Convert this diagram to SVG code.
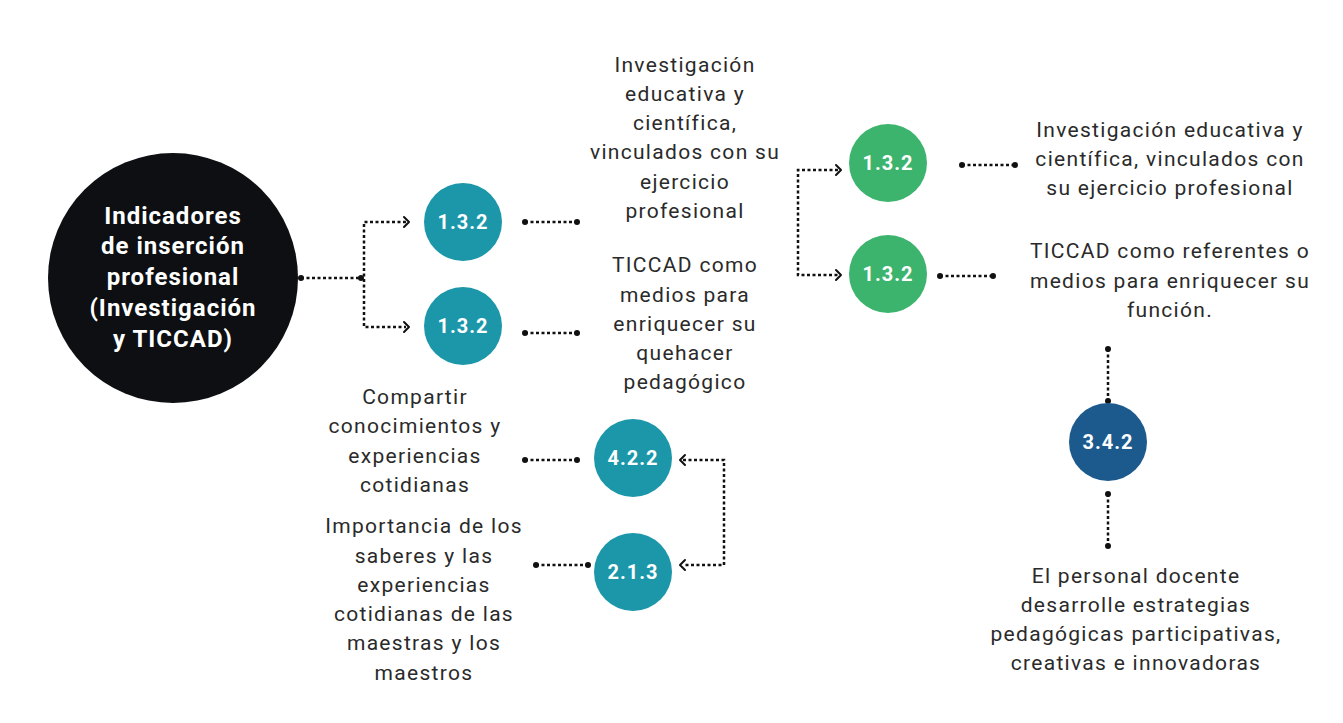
<svg xmlns="http://www.w3.org/2000/svg" width="1343" height="723" viewBox="0 0 1343 723">
<style>
.bg{fill:#ffffff}
.lbl{font-family:Roboto,"Liberation Sans",sans-serif;font-size:21px;letter-spacing:1.3px;fill:#2a2a2a;text-anchor:middle}
.num{font-family:Roboto,"Liberation Sans",sans-serif;font-size:20px;font-weight:700;letter-spacing:1px;fill:#ffffff;text-anchor:middle}
.main{font-family:Roboto,"Liberation Sans",sans-serif;font-size:24px;font-weight:700;letter-spacing:1px;fill:#ffffff;text-anchor:middle}
.teal{fill:#1c97a9}
.green{fill:#3cb46e}
.blue{fill:#1c5a8e}
.dot{stroke:#111;stroke-width:2.5;stroke-dasharray:3 2.5;fill:none}
.end{fill:#111}
.chev{stroke:#111;stroke-width:2;fill:none;stroke-linecap:round;stroke-linejoin:round}
</style>
<rect class="bg" x="0" y="0" width="1343" height="723"/>

<g id="connectors">
  <!-- main to teal pair -->
  <line class="dot" x1="301" y1="278" x2="361" y2="278"/>
  <circle class="end" cx="301" cy="278" r="3"/>
  <circle class="end" cx="361" cy="278" r="3"/>
  <polyline class="dot" points="406,222 364,222 364,327 406,327"/>
  <polyline class="chev" points="404,217 409,222 404,227"/>
  <polyline class="chev" points="404,322 409,327 404,332"/>
  <!-- teal to labels -->
  <line class="dot" x1="525" y1="222" x2="577" y2="222"/>
  <circle class="end" cx="525" cy="222" r="3"/>
  <circle class="end" cx="577" cy="222" r="3"/>
  <line class="dot" x1="525" y1="333" x2="577" y2="333"/>
  <circle class="end" cx="525" cy="333" r="3"/>
  <circle class="end" cx="577" cy="333" r="3"/>
  <!-- green bracket -->
  <polyline class="dot" points="838,170 798,170 798,275 838,275"/>
  <polyline class="chev" points="836,165 841,170 836,175"/>
  <polyline class="chev" points="836,270 841,275 836,280"/>
  <!-- green to labels -->
  <line class="dot" x1="962" y1="165" x2="1015" y2="165"/>
  <circle class="end" cx="962" cy="165" r="3"/>
  <circle class="end" cx="1015" cy="165" r="3"/>
  <line class="dot" x1="940" y1="276" x2="993" y2="276"/>
  <circle class="end" cx="940" cy="276" r="3"/>
  <circle class="end" cx="993" cy="276" r="3"/>
  <!-- 3.4.2 verticals -->
  <line class="dot" x1="1108" y1="349" x2="1108" y2="401"/>
  <circle class="end" cx="1108" cy="349" r="3"/>
  <circle class="end" cx="1108" cy="401" r="3"/>
  <line class="dot" x1="1108" y1="494" x2="1108" y2="546"/>
  <circle class="end" cx="1108" cy="494" r="3"/>
  <circle class="end" cx="1108" cy="546" r="3"/>
  <!-- lower bracket -->
  <polyline class="dot" points="683,460 724,460 724,565 683,565"/>
  <polyline class="chev" points="685,455 680,460 685,465"/>
  <polyline class="chev" points="685,560 680,565 685,570"/>
  <!-- lower circles to labels -->
  <line class="dot" x1="525" y1="460" x2="577" y2="460"/>
  <circle class="end" cx="525" cy="460" r="3"/>
  <circle class="end" cx="577" cy="460" r="3"/>
  <line class="dot" x1="536" y1="565" x2="588" y2="565"/>
  <circle class="end" cx="536" cy="565" r="3"/>
  <circle class="end" cx="588" cy="565" r="3"/>
</g>

<g id="main-node">
  <circle cx="173" cy="278" r="125" fill="#0d0f12"/>
  <text class="main" x="173" y="224">Indicadores</text>
  <text class="main" x="173" y="254">de inserción</text>
  <text class="main" x="173" y="285">profesional</text>
  <text class="main" x="173" y="316">(Investigación</text>
  <text class="main" x="173" y="347">y TICCAD)</text>
</g>

<g id="node-132a">
  <circle class="teal" cx="463" cy="222" r="39"/>
  <text class="num" x="463" y="229">1.3.2</text>
</g>
<g id="node-132b">
  <circle class="teal" cx="463" cy="326" r="39"/>
  <text class="num" x="463" y="333">1.3.2</text>
</g>

<g id="label-inv1">
  <text class="lbl" x="685" y="72">Investigación</text>
  <text class="lbl" x="685" y="101">educativa y</text>
  <text class="lbl" x="685" y="130">científica,</text>
  <text class="lbl" x="685" y="159">vinculados con su</text>
  <text class="lbl" x="685" y="189">ejercicio</text>
  <text class="lbl" x="685" y="218">profesional</text>
</g>
<g id="label-ticcad1">
  <text class="lbl" x="685" y="272">TICCAD como</text>
  <text class="lbl" x="685" y="302">medios para</text>
  <text class="lbl" x="685" y="331">enriquecer su</text>
  <text class="lbl" x="685" y="360">quehacer</text>
  <text class="lbl" x="685" y="389">pedagógico</text>
</g>

<g id="node-132c">
  <circle class="green" cx="888" cy="163" r="39"/>
  <text class="num" x="888" y="170">1.3.2</text>
</g>
<g id="node-132d">
  <circle class="green" cx="888" cy="274" r="39"/>
  <text class="num" x="888" y="281">1.3.2</text>
</g>

<g id="label-inv2">
  <text class="lbl" x="1170" y="137">Investigación educativa y</text>
  <text class="lbl" x="1170" y="166">científica, vinculados con</text>
  <text class="lbl" x="1170" y="195">su ejercicio profesional</text>
</g>
<g id="label-ticcad2">
  <text class="lbl" x="1170" y="258">TICCAD como referentes o</text>
  <text class="lbl" x="1170" y="288">medios para enriquecer su</text>
  <text class="lbl" x="1170" y="317">función.</text>
</g>

<g id="node-342">
  <circle class="blue" cx="1108" cy="442" r="39"/>
  <text class="num" x="1108" y="449">3.4.2</text>
</g>
<g id="label-docente">
  <text class="lbl" x="1136" y="583">El personal docente</text>
  <text class="lbl" x="1136" y="612">desarrolle estrategias</text>
  <text class="lbl" x="1136" y="641">pedagógicas participativas,</text>
  <text class="lbl" x="1136" y="670">creativas e innovadoras</text>
</g>

<g id="node-422">
  <circle class="teal" cx="633" cy="458" r="39"/>
  <text class="num" x="633" y="465">4.2.2</text>
</g>
<g id="node-213">
  <circle class="teal" cx="633" cy="572" r="39"/>
  <text class="num" x="633" y="579">2.1.3</text>
</g>

<g id="label-compartir">
  <text class="lbl" x="415" y="404">Compartir</text>
  <text class="lbl" x="415" y="433">conocimientos y</text>
  <text class="lbl" x="415" y="463">experiencias</text>
  <text class="lbl" x="415" y="492">cotidianas</text>
</g>
<g id="label-importancia">
  <text class="lbl" x="424" y="533">Importancia de los</text>
  <text class="lbl" x="424" y="563">saberes y las</text>
  <text class="lbl" x="424" y="592">experiencias</text>
  <text class="lbl" x="424" y="621">cotidianas de las</text>
  <text class="lbl" x="424" y="650">maestras y los</text>
  <text class="lbl" x="424" y="680">maestros</text>
</g>
</svg>
